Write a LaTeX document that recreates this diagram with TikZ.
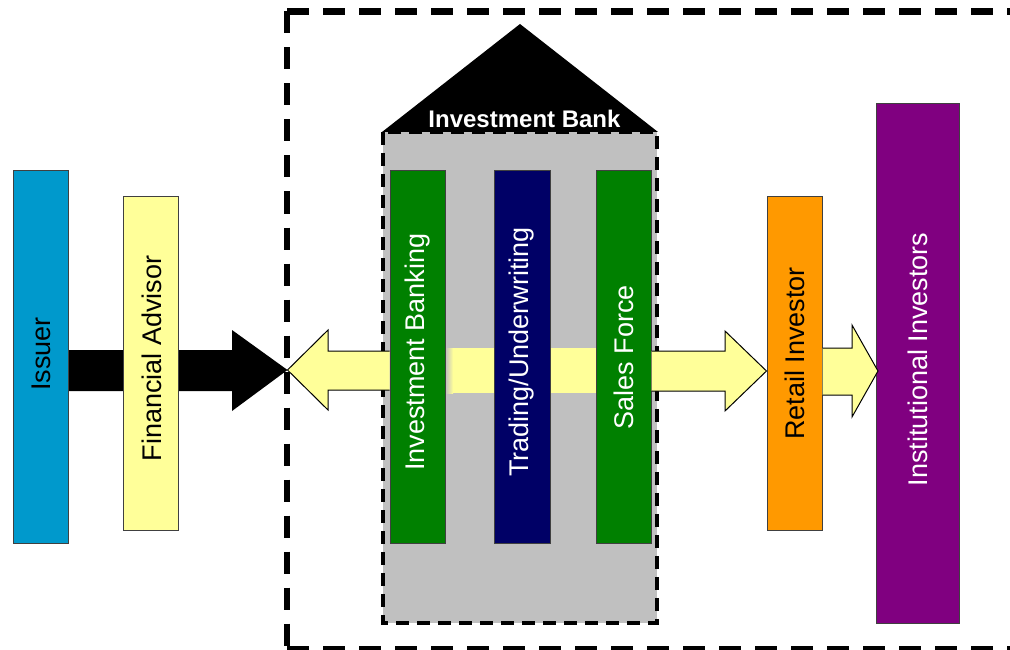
\documentclass[tikz,border=0pt]{standalone}
\usepackage{fontspec}
\setmainfont{Liberation Sans}
\usetikzlibrary{calc}
\definecolor{issuerblue}{RGB}{0,153,204}
\definecolor{paleyellow}{RGB}{255,255,153}
\definecolor{bankgreen}{RGB}{0,128,0}
\definecolor{tradenavy}{RGB}{0,0,102}
\definecolor{retailorange}{RGB}{255,153,0}
\definecolor{instpurple}{RGB}{128,0,128}
\definecolor{bankgray}{RGB}{192,192,192}
\pgfdeclarelayer{back}
\pgfsetlayers{back,main}
\begin{document}
\begin{tikzpicture}[x=1pt,y=-1pt,
  colbox/.style={draw=black!75, line width=1pt, inner sep=0pt, minimum width=55pt},
  coltext/.style={inner sep=0pt, font=\fontsize{27}{32}\selectfont},
  yarrow/.style={fill=paleyellow, draw=black, line width=1pt, line join=miter},
  framedash/.style={draw=black, line width=6.5pt, dash pattern=on 22pt off 14pt},
  bodydash/.style={draw=black, line width=4pt, dash pattern=on 13pt off 8pt}]
\useasboundingbox (0,0) rectangle (1010,650);

% boxes
\node[colbox, fill=issuerblue, minimum height=372pt] (issuer) at (40.5,357) {};
\node[colbox, fill=paleyellow, minimum height=333pt] (advisor) at (150.5,363.5) {};
\node[colbox, fill=bankgreen, minimum height=372pt] (ib) at (417.5,357) {};
\node[colbox, fill=tradenavy, minimum width=56pt, minimum height=372pt] (trading) at (522,357) {};
\node[colbox, fill=bankgreen, minimum height=372pt] (sales) at (623.5,357) {};
\node[colbox, fill=retailorange, minimum height=333pt] (retail) at (794.5,363.5) {};
\node[colbox, fill=instpurple, minimum width=83pt, minimum height=519pt] (inst) at (917.5,363.5) {};

% texts
\node[coltext] (issuer-t) at ($(issuer)+(1,-3)$) {\rotatebox{90}{Issuer}};
\node[coltext] (advisor-t) at ($(advisor)+(1,-5)$) {\rotatebox{90}{Financial Advisor}};
\node[coltext, text=white] (ib-t) at ($(ib)+(0,-5)$) {\rotatebox{90}{Investment Banking}};
\node[coltext, text=white] (trading-t) at ($(trading)+(0,-5)$) {\rotatebox{90}{Trading/Underwriting}};
\node[coltext, text=white] (sales-t) at ($(sales)+(0,0)$) {\rotatebox{90}{Sales Force}};
\node[coltext] (retail-t) at ($(retail)+(0,-10)$) {\rotatebox{90}{Retail Investor}};
\node[coltext, text=white] (inst-t) at ($(inst)+(0,-4)$) {\rotatebox{90}{Institutional Investors}};

\coordinate (tipL) at (287.5,370);

\begin{pgfonlayer}{back}
  % outer dashed frame
  \draw[framedash] (287,11.5) -- (1040,11.5);
  \draw[framedash] (287,11.5) -- (287,660);
  \draw[framedash] (287,649) -- (1040,649);
  % roof
  \fill[black] (382,132) -- (520,24) -- (658,132) -- cycle;
  \node[text=white, inner sep=0pt, font=\bfseries\fontsize{24}{28}\selectfont] (banklabel) at (524.5,118.5) {Investment Bank};
  % body
  \fill[bankgray] (383,132) rectangle (657,623);
  \draw[bodydash] (383,132) rectangle (657,623);
  % yellow band behind columns
  \shade[left color=bankgray, right color=paleyellow] (ib.east |- 0,348) rectangle (453,393);
  \fill[paleyellow] (453,348) rectangle (sales.west |- 0,393);
  % black arrow
  \fill[black] (issuer.east |- 0,350) -- (232,350) -- (232,330) -- (tipL)
     -- (232,411) -- (232,391) -- (issuer.east |- 0,391) -- cycle;
\end{pgfonlayer}

% yellow arrows
\path[yarrow] (ib.west |- 0,351) -- (328,351) -- (328,330) -- (tipL)
   -- (328,410) -- (328,390) -- (ib.west |- 0,390);
\path[yarrow] (sales.east |- 0,351) -- (725,351) -- (725,331) -- (retail.west |- 0,371)
   -- (725,411) -- (725,391) -- (sales.east |- 0,391);
\path[yarrow] (retail.east |- 0,348) -- (852,348) -- (852,325) -- (878,371)
   -- (852,417) -- (852,395) -- (retail.east |- 0,395);
\end{tikzpicture}
\end{document}
